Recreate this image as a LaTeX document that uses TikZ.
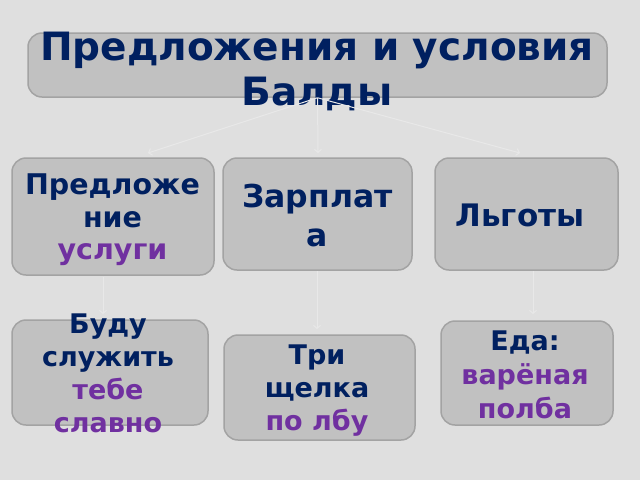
\documentclass[tikz,border=0pt]{standalone}
\usepackage{fontspec}
\setmainfont{DejaVu Sans}
\usetikzlibrary{arrows.meta}
\definecolor{bg}{HTML}{DFDFDF}
\definecolor{boxfill}{HTML}{C1C1C1}
\definecolor{boxline}{HTML}{A3A3A3}
\definecolor{navy}{HTML}{002060}
\definecolor{purp}{HTML}{7030A0}
\definecolor{connc}{HTML}{E8E8E8}
\begin{document}
\begin{tikzpicture}[x=1pt,y=-1pt,
  box/.style={draw=boxline, fill=boxfill, line width=1.5pt, rounded corners=14pt, inner sep=0pt},
  txt/.style={text=navy, align=center, inner sep=0pt},
  conn/.style={draw=connc, line width=1pt, -{Straight Barb[length=3pt,width=7pt]}}]
\fill[bg] (0,0) rectangle (640,480);
\useasboundingbox (0,0) rectangle (640,480);
% boxes
\node[box, minimum width=579pt, minimum height=64pt] (title) at (317.5,65) {};
\node[box, minimum width=202pt, minimum height=117pt] (offer) at (113,216.5) {};
\node[box, minimum width=189pt, minimum height=112pt] (pay) at (317.5,214) {};
\node[box, minimum width=183pt, minimum height=112pt] (perk) at (526.5,214) {};
\node[box, minimum width=196pt, minimum height=105pt] (serve) at (110,372.5) {};
\node[box, minimum width=191pt, minimum height=105pt] (flick) at (319.5,387.5) {};
\node[box, minimum width=172pt, minimum height=104pt] (food) at (527,373) {};
% texts
\node[txt, font=\fontsize{39}{45}\selectfont\bfseries] (titletxt) at (317,71)
  {Предложения и условия\\Балды};
\node[txt, font=\fontsize{28.5}{32.5}\selectfont\bfseries] (offertxt) at (112.5,220)
  {Предложе\\ние\\\textcolor{purp}{услуги}};
\node[txt, font=\fontsize{31.5}{39}\selectfont\bfseries] (paytxt) at (317.5,216)
  {Зарплат\\а};
\node[txt, font=\fontsize{31}{34}\selectfont\bfseries] (perktxt) at (520,215)
  {Льготы};
\node[txt, font=\fontsize{27}{33}\selectfont\bfseries] (servetxt) at (108,373)
  {Буду\\служить\\\textcolor{purp}{тебе}\\\textcolor{purp}{славно}};
\node[txt, font=\fontsize{27}{33}\selectfont\bfseries] (flicktxt) at (317,391)
  {Три\\щелка\\\textcolor{purp}{по лбу}};
\node[txt, font=\fontsize{27}{34}\selectfont\bfseries] (foodtxt) at (525,375)
  {Еда:\\\textcolor{purp}{варёная}\\\textcolor{purp}{полба}};
% connector end points
\coordinate (e1) at (148,153);
\coordinate (e2) at (318,153);
\coordinate (e3) at (520,153);
\coordinate (s4) at (103,277);
\coordinate (e4) at (103,314);
\coordinate (s5) at (317,271);
\coordinate (e5) at (317,329);
\coordinate (s6) at (533,271);
\coordinate (e6) at (533,314);
\draw[conn] (title.south) -- (e1);
\draw[conn] (title.south) -- (e2);
\draw[conn] (title.south) -- (e3);
\draw[conn] (s4) -- (e4);
\draw[conn] (s5) -- (e5);
\draw[conn] (s6) -- (e6);
\end{tikzpicture}
\end{document}
